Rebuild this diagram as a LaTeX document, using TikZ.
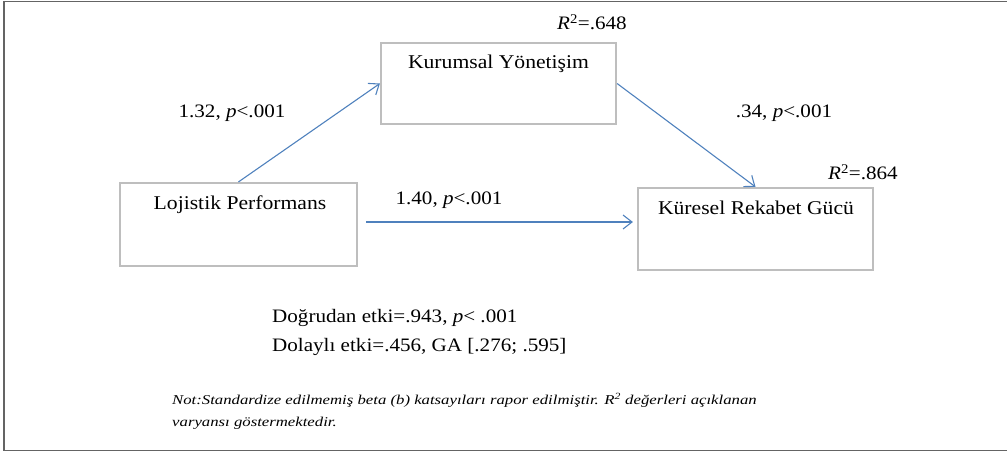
\documentclass[tikz,border=0pt]{standalone}
\usepackage{fontspec}
\setmainfont[FakeStretch=1.11]{Liberation Serif}
\newfontfamily\notefont[FakeStretch=1.24]{Liberation Serif}
\usetikzlibrary{arrows.meta}
\definecolor{arrblue}{RGB}{79,129,189}
\definecolor{boxgray}{RGB}{190,190,190}
\definecolor{framegray}{RGB}{100,100,100}
\tikzset{
  box/.style={draw=boxgray, line width=2.2pt, rectangle, inner sep=0pt},
  boxtext/.style={font=\fontsize{19.5}{23}\selectfont, inner sep=0pt},
  arr/.style={draw=arrblue, line width=1.1pt, -{Straight Barb[length=9pt,width=14pt,line width=1.1pt]}},
  coef/.style={font=\fontsize{19}{23}\selectfont, inner sep=0pt},
  notetext/.style={anchor=west, inner sep=0pt, font=\notefont\fontsize{13.5}{16}\selectfont\itshape},
  frameline/.style={draw=framegray, line width=1.6pt},
}
\begin{document}
\begin{tikzpicture}[x=1pt,y=-1pt]
\useasboundingbox (0,0) rectangle (1007,452);
% frame
\draw[frameline, line width=2.2pt] (4,1) -- (4,451);
\draw[frameline, line width=1.2pt] (3,1.5) -- (1007,1.5);
\draw[frameline, line width=1.4pt] (3,450.5) -- (1007,450.5);
% boxes
\node[box, minimum width=235pt, minimum height=81pt] (ky) at (498.5,83.5) {};
\node[box, minimum width=237pt, minimum height=83pt] (lp) at (238.5,224.5) {};
\node[box, minimum width=235pt, minimum height=82pt] (kr) at (755.5,229) {};
\node[boxtext] (kyt) at (498.5,64) {Kurumsal Yönetişim};
\node[boxtext] (lpt) at (240,205) {Lojistik Performans};
\node[boxtext] (krt) at (756,208) {Küresel Rekabet Gücü};
% arrows
\draw[arr] (lp.north) -- (ky.west);
\draw[arr] (ky.east) -- (kr.north);
\coordinate (hs) at ([shift={(8,-2.5)}]lp.east);
\coordinate (he) at (hs -| kr.west);
\draw[arr] (hs) -- ([xshift=-4pt]he);
% coefficient labels
\node[coef] (c1) at (232,113) {1.32, \textit{p}<.001};
\node[coef] (c2) at (449,200) {1.40, \textit{p}<.001};
\node[coef] (c3) at (784,113) {.34, \textit{p}<.001};
\node[coef] (r1) at (592,22) {\textit{R}\textsuperscript{2}=.648};
\node[coef] (r2) at (863,172) {\textit{R}\textsuperscript{2}=.864};
% effects
\node[coef, anchor=west] (e1) at (272,318) {Doğrudan etki=.943, \textit{p}< .001};
\node[coef, anchor=west] (e2) at (272,347) {Dolaylı etki=.456, GA [.276; .595]};
% note
\node[notetext] (n1) at (172,400) {Not:Standardize edilmemiş beta (b) katsayıları rapor edilmiştir. R\textsuperscript{2} değerleri açıklanan};
\node[notetext] (n2) at (172,423) {varyansı göstermektedir.};
\end{tikzpicture}
\end{document}
